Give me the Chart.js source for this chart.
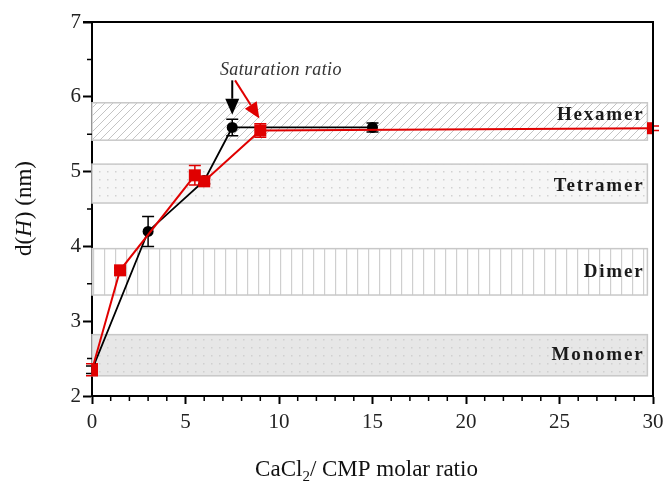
<!DOCTYPE html>
<html><head><meta charset="utf-8">
<script src="https://cdn.jsdelivr.net/npm/chart.js@4/dist/chart.umd.min.js"></script>
<style>html,body{margin:0;padding:0;background:#fff;}</style>
</head><body>
<canvas id="c" width="666" height="490"></canvas>
<script>
// ---- data ----
const blackX = [0, 3, 6, 7.5, 15];
const blackY = [2.35, 4.2, 4.88, 5.59, 5.59];
const blackErr = [0.05, 0.2, 0.04, 0.11, 0.06];
const redX = [0, 1.5, 5.5, 6, 9, 30];
const redY = [2.35, 3.68, 4.95, 4.87, 5.55, 5.58];
const redErr = [0.08, 0.03, 0.13, 0.04, 0.09, 0.03];
const bandNames = ['Monomer', 'Dimer', 'Tetramer', 'Hexamer'];
const bandLow = [2.27, 3.35, 4.58, 5.42];
const bandHigh = [2.82, 3.97, 5.10, 5.92];
const bandLabelY = [2.55, 3.65, 4.81, 5.75];
const bandStartX = 0;
const bandEndX = 29.7;
const xTicks = [0, 5, 10, 15, 20, 25, 30];
const yTicks = [2, 3, 4, 5, 6, 7];
const xMinor = [1,2,3,4,6,7,8,9,11,12,13,14,16,17,18,19,21,22,23,24,26,27,28,29];
const yMinor = [2.5, 3.5, 4.5, 5.5, 6.5];
const satText = 'Saturation ratio';
const satPos = [10.1, 6.35];
const blackArrow = [[7.5, 6.22], [7.5, 5.76]];
const redArrow = [[7.65, 6.22], [8.95, 5.71]];

const SERIF = '"Liberation Serif","Times New Roman",serif';

function makePattern(kind) {
  const c = document.createElement('canvas');
  const ctx = c.getContext('2d');
  if (kind === 'diag') {
    c.width = 8; c.height = 8;
    ctx.fillStyle = '#fff'; ctx.fillRect(0,0,8,8);
    ctx.strokeStyle = '#c4c4c4'; ctx.lineWidth = 1;
    ctx.beginPath();
    ctx.moveTo(0,8); ctx.lineTo(8,0);
    ctx.moveTo(-4,4); ctx.lineTo(4,-4);
    ctx.moveTo(4,12); ctx.lineTo(12,4);
    ctx.stroke();
  } else if (kind === 'dotsLight') {
    c.width = 8; c.height = 8;
    ctx.fillStyle = '#f6f6f6'; ctx.fillRect(0,0,8,8);
    ctx.fillStyle = '#d2d2d2'; ctx.fillRect(3,3,1.5,1.5);
  } else if (kind === 'dotsGray') {
    c.width = 8; c.height = 8;
    ctx.fillStyle = '#e7e7e7'; ctx.fillRect(0,0,8,8);
    ctx.fillStyle = '#d0d0d0'; ctx.fillRect(3,3,1.5,1.5);
  } else if (kind === 'vert') {
    c.width = 11; c.height = 4;
    ctx.fillStyle = '#fff'; ctx.fillRect(0,0,11,4);
    ctx.fillStyle = '#cfcfcf'; ctx.fillRect(5,0,1.2,4);
  }
  return c;
}

const bandPatterns = ['dotsGray', 'vert', 'dotsLight', 'diag'];

const decorPlugin = {
  id: 'decor',
  beforeDatasetsDraw(chart) {
    const {ctx, scales: {x, y}} = chart;
    ctx.save();
    // bands
    for (let i = 0; i < bandNames.length; i++) {
      const x0 = x.getPixelForValue(bandStartX), x1 = x.getPixelForValue(bandEndX);
      const y0 = y.getPixelForValue(bandHigh[i]), y1 = y.getPixelForValue(bandLow[i]);
      const pat = ctx.createPattern(makePattern(bandPatterns[i]), 'repeat');
      ctx.fillStyle = pat;
      ctx.fillRect(x0, y0, x1 - x0, y1 - y0);
      ctx.strokeStyle = '#c8c8c8'; ctx.lineWidth = 1.5;
      ctx.strokeRect(x0, y0, x1 - x0, y1 - y0);
    }
    // band labels
    ctx.fillStyle = '#1a1a1a';
    ctx.font = 'bold 19px ' + SERIF;
    ctx.textAlign = 'right'; ctx.textBaseline = 'middle';
    if ('letterSpacing' in ctx) ctx.letterSpacing = '1.8px';
    for (let i = 0; i < bandNames.length; i++) {
      ctx.fillText(bandNames[i], x.getPixelForValue(bandEndX) - 3, y.getPixelForValue(bandLabelY[i]));
    }
    if ('letterSpacing' in ctx) ctx.letterSpacing = '0px';
    // error bars
    const drawErr = (xs, ys, es, color, lw) => {
      ctx.strokeStyle = color; ctx.lineWidth = lw;
      for (let i = 0; i < xs.length; i++) {
        const px = x.getPixelForValue(xs[i]);
        const pt = y.getPixelForValue(ys[i] + es[i]);
        const pb = y.getPixelForValue(ys[i] - es[i]);
        ctx.beginPath();
        ctx.moveTo(px, pt); ctx.lineTo(px, pb);
        ctx.moveTo(px - 6, pt); ctx.lineTo(px + 6, pt);
        ctx.moveTo(px - 6, pb); ctx.lineTo(px + 6, pb);
        ctx.stroke();
      }
    };
    drawErr(blackX, blackY, blackErr, '#000', 1.5);
    drawErr(redX, redY, redErr, '#e00000', 1.5);
    ctx.restore();
  },
  afterDraw(chart) {
    const {ctx, chartArea: ca, scales: {x, y}} = chart;
    ctx.save();
    // frame top & right
    ctx.strokeStyle = '#000'; ctx.lineWidth = 2;
    ctx.beginPath();
    ctx.moveTo(ca.left - 9, ca.top); ctx.lineTo(ca.right, ca.top); ctx.lineTo(ca.right, ca.bottom);
    ctx.stroke();
    // minor ticks
    ctx.lineWidth = 1.5;
    ctx.beginPath();
    xMinor.forEach(v => { const px = x.getPixelForValue(v); ctx.moveTo(px, ca.bottom); ctx.lineTo(px, ca.bottom + 5); });
    yMinor.forEach(v => { const py = y.getPixelForValue(v); ctx.moveTo(ca.left, py); ctx.lineTo(ca.left - 5, py); });
    ctx.stroke();
    // saturation text
    ctx.fillStyle = '#333';
    ctx.font = 'italic 18px ' + SERIF;
    if ('letterSpacing' in ctx) ctx.letterSpacing = '0.4px';
    ctx.textAlign = 'center'; ctx.textBaseline = 'middle';
    ctx.fillText(satText, x.getPixelForValue(satPos[0]), y.getPixelForValue(satPos[1]));
    if ('letterSpacing' in ctx) ctx.letterSpacing = '0px';
    // arrows
    const arrow = (p, color) => {
      const x0 = x.getPixelForValue(p[0][0]), y0 = y.getPixelForValue(p[0][1]);
      const x1 = x.getPixelForValue(p[1][0]), y1 = y.getPixelForValue(p[1][1]);
      const ang = Math.atan2(y1 - y0, x1 - x0);
      const hl = 16, hw = 7;
      const bx = x1 - hl * Math.cos(ang), by = y1 - hl * Math.sin(ang);
      ctx.strokeStyle = color; ctx.fillStyle = color; ctx.lineWidth = 2;
      ctx.beginPath(); ctx.moveTo(x0, y0); ctx.lineTo(bx, by); ctx.stroke();
      ctx.beginPath();
      ctx.moveTo(x1, y1);
      ctx.lineTo(bx + hw * Math.sin(ang), by - hw * Math.cos(ang));
      ctx.lineTo(bx - hw * Math.sin(ang), by + hw * Math.cos(ang));
      ctx.closePath(); ctx.fill();
    };
    arrow(blackArrow, '#000');
    arrow(redArrow, '#e00000');
    // x title
    ctx.fillStyle = '#111';
    ctx.textBaseline = 'alphabetic'; ctx.textAlign = 'left';
    const f1 = '23px ' + SERIF, f2 = '15px ' + SERIF;
    ctx.font = f1; const wA = ctx.measureText('CaCl').width;
    ctx.font = f2; const wB = ctx.measureText('2').width;
    ctx.font = f1; const wC = ctx.measureText('/ CMP molar ratio').width;
    let sx = (ca.left + ca.right) / 2 - (wA + wB + wC) / 2 - 6;
    const by = 476;
    ctx.font = f1; ctx.fillText('CaCl', sx, by); sx += wA;
    ctx.font = f2; ctx.fillText('2', sx, by + 5); sx += wB;
    ctx.font = f1; ctx.fillText('/ CMP molar ratio', sx, by);
    // y title
    ctx.save();
    ctx.translate(31, (ca.top + ca.bottom) / 2);
    ctx.rotate(-Math.PI / 2);
    const fi = 'italic 23px ' + SERIF;
    ctx.font = f1; const a = ctx.measureText('d(').width;
    ctx.font = fi; const b = ctx.measureText('H').width;
    ctx.font = f1; const c = ctx.measureText(') (nm)').width;
    let tx = -(a + b + c) / 2;
    ctx.font = f1; ctx.fillText('d(', tx, 0); tx += a;
    ctx.font = fi; ctx.fillText('H', tx, 0); tx += b + 1;
    ctx.font = f1; ctx.fillText(') (nm)', tx, 0);
    ctx.restore();
    ctx.restore();
  }
};

const toPts = (xs, ys) => xs.map((v, i) => ({x: v, y: ys[i]}));

new Chart(document.getElementById('c'), {
  type: 'scatter',
  data: {
    datasets: [
      {
        label: 'black', data: toPts(blackX, blackY), showLine: true,
        borderColor: '#000', borderWidth: 1.8, backgroundColor: '#000',
        pointStyle: 'circle', pointRadius: 5.5, pointBorderWidth: 0, order: 2
      },
      {
        label: 'red', data: toPts(redX, redY), showLine: true,
        borderColor: '#e00000', borderWidth: 2, backgroundColor: '#e00000',
        pointStyle: 'rect', pointRadius: 8.5, pointBorderWidth: 0, order: 1
      }
    ]
  },
  options: {
    responsive: false, animation: false,
    layout: {padding: {left: 0, top: 22, right: 13, bottom: 0}},
    plugins: {legend: {display: false}, tooltip: {enabled: false}},
    scales: {
      x: {
        type: 'linear', min: 0, max: 30,
        afterBuildTicks: s => { s.ticks = xTicks.map(v => ({value: v})); },
        afterFit: s => { s.height = 94; s.paddingLeft = 0; s.paddingRight = 0; },
        ticks: {font: {family: SERIF, size: 21}, color: '#222', padding: 6, maxRotation: 0},
        grid: {drawOnChartArea: false, drawTicks: true, tickLength: 8, tickWidth: 2, tickColor: '#000'},
        border: {display: true, color: '#000', width: 2}
      },
      y: {
        type: 'linear', min: 2, max: 7,
        afterBuildTicks: s => { s.ticks = yTicks.map(v => ({value: v})); },
        afterFit: s => { s.width = 92; s.paddingTop = 0; s.paddingBottom = 0; },
        ticks: {font: {family: SERIF, size: 21}, color: '#222', padding: 2},
        grid: {drawOnChartArea: false, drawTicks: true, tickLength: 9, tickWidth: 2, tickColor: '#000'},
        border: {display: true, color: '#000', width: 2}
      }
    }
  },
  plugins: [decorPlugin]
});
</script>
</body></html>
